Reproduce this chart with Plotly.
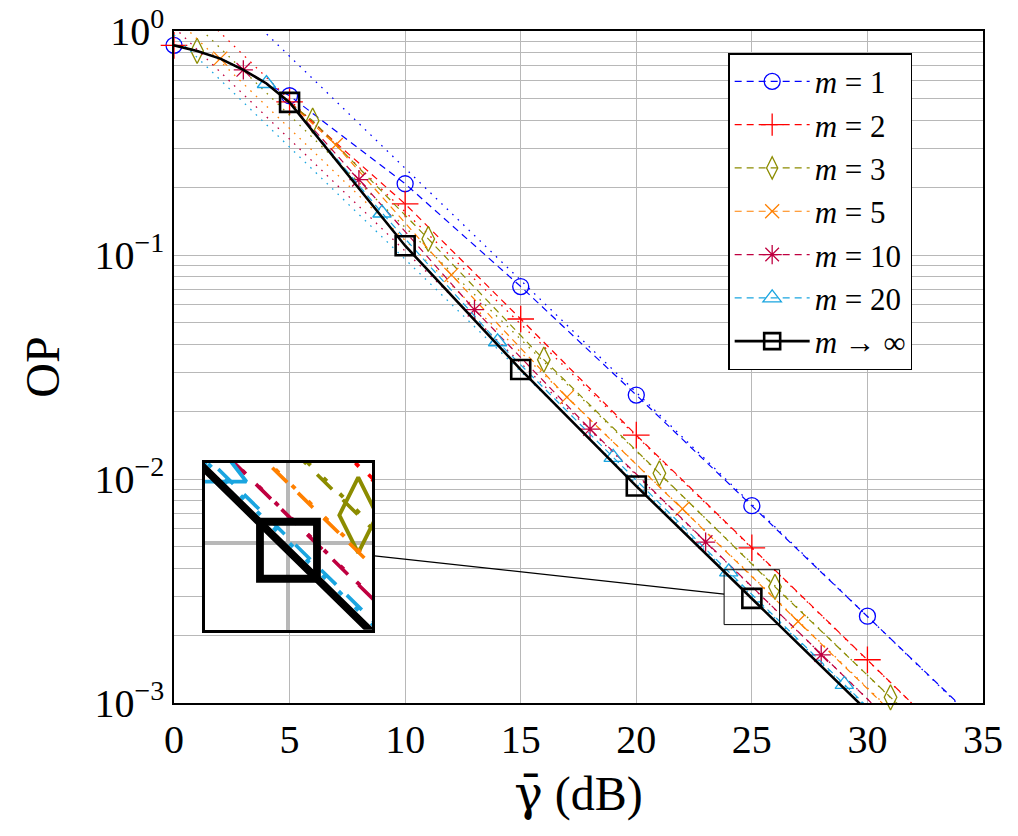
import plotly.graph_objects as go
import numpy as np

# 低 SNR 区各曲线重合
low_snr = [0, 1, 2, 3, 4]
low_op = [0.863, 0.815, 0.753, 0.671, 0.583]

# 各 m 的曲线读数 (dB, OP)
snr_m1 = low_snr + [5, 10, 15, 20, 25, 30, 35]
op_m1 = low_op + [0.514, 0.208, 0.0723, 0.0237, 0.0076, 0.00244, 0.00078]
snr_m2 = low_snr + [5, 10, 15, 20, 25, 30, 35]
op_m2 = low_op + [0.483, 0.169, 0.0518, 0.0157, 0.00493, 0.00156, 0.00049]
snr_m3 = low_snr + [5, 6, 11, 16, 21, 26, 31, 35]
op_m3 = low_op + [0.477, 0.398, 0.118, 0.0341, 0.0106, 0.0033, 0.00106, 0.00044]
snr_m5 = low_snr + [5, 7, 12, 17, 22, 27, 32]
op_m5 = low_op + [0.478, 0.31, 0.0815, 0.0232, 0.00736, 0.00231, 0.00073]
snr_m10 = low_snr + [5, 8, 13, 18, 23, 28, 33]
op_m10 = low_op + [0.479, 0.217, 0.057, 0.0167, 0.00523, 0.00164, 0.00052]
snr_m20 = low_snr + [5, 9, 14, 19, 24, 29, 34]
op_m20 = low_op + [0.48, 0.154, 0.041, 0.0125, 0.00385, 0.00121, 0.00038]
snr_inf = low_snr + [5, 10, 15, 20, 25, 30]
op_inf = low_op + [0.48, 0.110, 0.0308, 0.0093, 0.00293, 0.00092]

# 标记位置
mark_m1 = [0, 5, 10, 15, 20, 25, 30]
mark_m2 = [0, 5, 10, 15, 20, 25, 30]
mark_m3 = [1, 6, 11, 16, 21, 26, 31]
mark_m5 = [2, 7, 12, 17, 22, 27]
mark_m10 = [3, 8, 13, 18, 23, 28]
mark_m20 = [4, 9, 14, 19, 24, 29]
mark_inf = [5, 10, 15, 20, 25]

# 高 SNR 渐近线 (点线)
asym_snr = [0, 35]
asym_m1 = [2.44, 0.00077]
asym_m2 = [1.56, 0.00049]
asym_m3 = [1.33, 0.00042]
asym_m5 = [1.16, 0.00037]
asym_m10 = [1.04, 0.00033]
asym_m20 = [0.96, 0.00030]

labels = ['<i>m</i> = 1', '<i>m</i> = 2', '<i>m</i> = 3', '<i>m</i> = 5',
          '<i>m</i> = 10', '<i>m</i> = 20', '<i>m</i> → ∞']

series = [
    (snr_m1, op_m1, mark_m1, asym_m1, '#0000ff', 'circle-open', 16),
    (snr_m2, op_m2, mark_m2, asym_m2, '#ff0000', 'cross-thin-open', 19),
    (snr_m3, op_m3, mark_m3, asym_m3, '#8c8c00', 'diamond-tall-open', 18),
    (snr_m5, op_m5, mark_m5, asym_m5, '#ff8000', 'x-thin-open', 14),
    (snr_m10, op_m10, mark_m10, asym_m10, '#bf0040', 'asterisk-open', 16),
    (snr_m20, op_m20, mark_m20, asym_m20, '#1aa5e0', 'triangle-up-open', 16),
    (snr_inf, op_inf, mark_inf, None, 'black', 'square-open', 19),
]

# 放大框
zoom_x = [23.8, 26.2]
zoom_logy = [-2.65, -2.405]
inset_dom_x = [0.038, 0.245]
inset_dom_y = [0.109, 0.357]

fig = go.Figure()


def add_curves(xa, ya, k, main):
    for i, (sx, sy, mk, asym, col, sym, sz) in enumerate(series):
        solid = asym is None
        lw = (2.6 if solid else 1.2) * k
        dash = 'solid' if solid else '%gpx,%gpx' % (7 * k, 5 * k)
        if asym is not None:
            fig.add_trace(go.Scatter(
                x=asym_snr, y=asym, mode='lines', xaxis=xa, yaxis=ya,
                line=dict(color=col, width=1.3 * k, dash='%gpx,%gpx' % (1.6 * k, 6 * k)),
                showlegend=False, hoverinfo='skip'))
        fig.add_trace(go.Scatter(
            x=sx, y=sy, mode='lines', xaxis=xa, yaxis=ya,
            line=dict(color=col, width=lw, dash=dash),
            showlegend=False))
        lookup = dict(zip(sx, sy))
        mw = (2.6 if solid else 1.3) * k
        fig.add_trace(go.Scatter(
            x=mk, y=[lookup[v] for v in mk], mode='markers', xaxis=xa, yaxis=ya,
            marker=dict(symbol=sym, size=sz * k, color=col,
                        line=dict(color=col, width=mw)),
            cliponaxis=not main, showlegend=False))
        if main:
            fig.add_trace(go.Scatter(
                x=[None], y=[None], mode='lines+markers', name=labels[i],
                legendgroup='g%d' % i,
                line=dict(color=col, width=lw, dash=dash),
                marker=dict(symbol=sym, size=sz, color=col,
                            line=dict(color=col, width=mw))))


add_curves('x', 'y', 1, True)
add_curves('x2', 'y2', 3, False)

grid = '#b8b8b8'
# 页面 body 有 8px 边距, 尺寸相应减小
fig.update_layout(
    width=1010, height=828,
    margin=dict(l=166, r=35, t=23, b=133),
    plot_bgcolor='white', paper_bgcolor='white',
    font=dict(family='Liberation Serif', size=40, color='black'),
    xaxis=dict(range=[0, 35], dtick=5, showgrid=True, gridcolor=grid, gridwidth=1.2,
               showline=True, mirror=True, linecolor='black', linewidth=1.6,
               zeroline=False, ticks='', automargin=False, ticklabeloverflow='allow',
               title=dict(text='<span style="font-family:DejaVu Serif">γ̄</span> (dB)',
                          standoff=16)),
    yaxis=dict(type='log', range=[-3, 0], showgrid=True, gridcolor=grid, gridwidth=1.2,
               tickvals=[0.001, 0.01, 0.1, 1],
               ticktext=['10<sup>−3</sup>', '10<sup>−2</sup>', '10<sup>−1</sup>', '10<sup>0</sup>'],
               minor=dict(dtick='D1', showgrid=True, gridcolor=grid, gridwidth=1.2),
               showline=True, mirror=True, linecolor='black', linewidth=1.6,
               zeroline=False, ticks='', automargin=False, ticklabeloverflow='allow',
               title=dict(text='OP', standoff=20)),
    xaxis2=dict(domain=inset_dom_x, anchor='y2', range=zoom_x, tickvals=[25],
                showticklabels=False, showgrid=True, gridcolor=grid, gridwidth=3.6,
                showline=True, mirror=True, linecolor='black', linewidth=3,
                zeroline=False, ticks=''),
    yaxis2=dict(domain=inset_dom_y, anchor='x2', type='log', range=zoom_logy,
                tickvals=[0.003], showticklabels=False, showgrid=True,
                gridcolor=grid, gridwidth=3.6,
                showline=True, mirror=True, linecolor='black', linewidth=3,
                zeroline=False, ticks=''),
    legend=dict(x=0.685, y=0.967, xanchor='left', yanchor='top',
                bgcolor='white', bordercolor='black', borderwidth=1.5,
                font=dict(size=31), traceorder='grouped', tracegroupgap=0,
                itemwidth=75),
)

# 主图中的放大框与连接线 (paper 坐标)
bx0, bx1 = zoom_x[0] / 35, zoom_x[1] / 35
by0, by1 = (zoom_logy[0] + 3) / 3, (zoom_logy[1] + 3) / 3
fig.add_shape(type='rect', xref='paper', yref='paper', x0=bx0, x1=bx1, y0=by0, y1=by1,
              line=dict(color='black', width=1))
ax_c = sum(inset_dom_x) / 2
ay_c = sum(inset_dom_y) / 2
bx_c, by_c = (bx0 + bx1) / 2, (by0 + by1) / 2
t1 = (inset_dom_x[1] - ax_c) / (bx_c - ax_c)
t2 = (bx0 - ax_c) / (bx_c - ax_c)
fig.add_shape(type='line', xref='paper', yref='paper',
              x0=ax_c + t1 * (bx_c - ax_c), y0=ay_c + t1 * (by_c - ay_c),
              x1=ax_c + t2 * (bx_c - ax_c), y1=ay_c + t2 * (by_c - ay_c),
              line=dict(color='black', width=1.2))

fig.write_html("out.html")
